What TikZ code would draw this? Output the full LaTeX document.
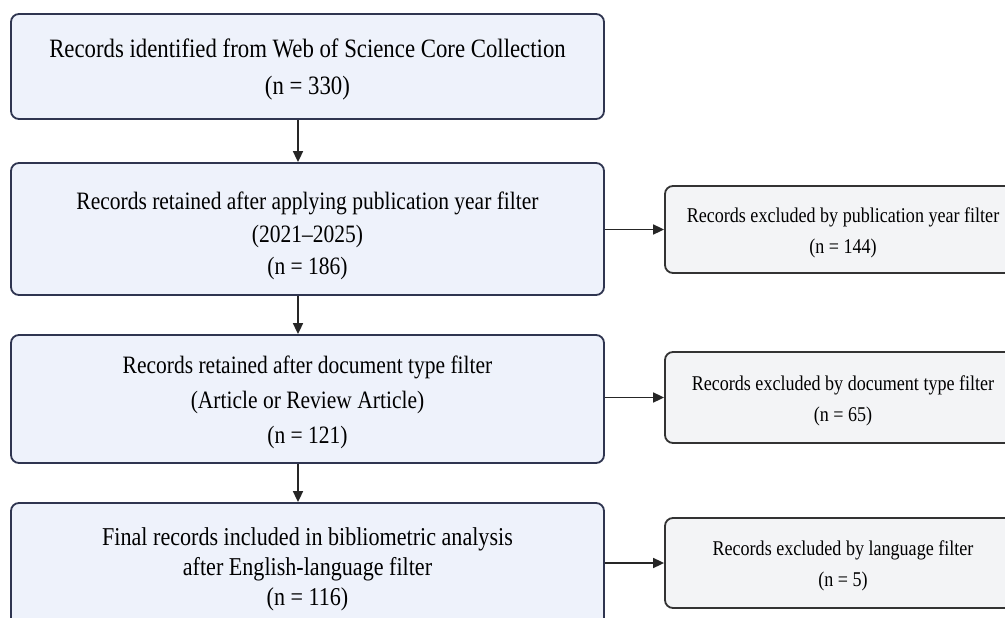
\documentclass[tikz,border=0pt]{standalone}
\usepackage{fontspec}
\setmainfont{Liberation Serif}[FakeStretch=0.86]
\usetikzlibrary{arrows.meta}
\definecolor{mainfill}{HTML}{EEF2FB}
\definecolor{mainedge}{HTML}{2F3550}
\definecolor{sidefill}{HTML}{F3F4F6}
\definecolor{sideedge}{HTML}{333333}
\tikzset{
  mainbox/.style={draw=mainedge, fill=mainfill, line width=1.8pt, rounded corners=8pt,
    minimum width=593pt, inner sep=0pt},
  sidebox/.style={draw=sideedge, fill=sidefill, line width=1.8pt, rounded corners=8pt,
    minimum width=356pt, inner sep=0pt},
  maintext/.style 2 args={align=center, inner sep=0pt, font=\fontsize{#1}{#2}\selectfont},
  sidetext/.style={align=center, inner sep=0pt, font=\fontsize{21}{31}\selectfont},
  flow/.style={line width=1.7pt, draw=black!85, -{Triangle[length=11pt,width=10pt]}}
}
\begin{document}
\begin{tikzpicture}[x=1pt,y=-1pt]
\useasboundingbox (0,0) rectangle (1005,618);
\clip (0,0) rectangle (1005,618);
\fill[white] (0,0) rectangle (1005,618);
\node[mainbox, minimum height=105pt] (b1) at (307.5,66.5) {};
\node[mainbox, minimum height=132pt] (b2) at (307.5,229) {};
\node[mainbox, minimum height=128pt] (b3) at (307.5,399) {};
\node[mainbox, minimum height=128pt] (b4) at (307.5,567) {};
\node[sidebox, minimum height=87pt] (r1) at (843,229.5) {};
\node[sidebox, minimum height=91pt] (r2) at (843,397.5) {};
\node[sidebox, minimum height=90pt] (r3) at (843,563) {};
\node[maintext={26.5}{37}] (t1) at ([yshift=-3pt]b1.center)
  {Records identified from Web of Science Core Collection\\(n = 330)};
\node[maintext={25}{32.5}] (t2) at ([yshift=-7pt]b2.center)
  {Records retained after applying publication year filter\\(2021--2025)\\(n = 186)};
\node[maintext={25}{35}] (t3) at ([yshift=-3pt]b3.center)
  {Records retained after document type filter\\(Article or Review Article)\\(n = 121)};
\node[maintext={25.7}{30}] (t4) at ([yshift=-2pt]b4.center)
  {Final records included in bibliometric analysis\\after English-language filter\\(n = 116)};
\node[sidetext] (s1) at ([yshift=-3pt]r1.center)
  {Records excluded by publication year filter\\(n = 144)};
\node[sidetext] (s2) at ([yshift=-3pt]r2.center)
  {Records excluded by document type filter\\(n = 65)};
\node[sidetext] (s3) at ([yshift=-3pt]r3.center)
  {Records excluded by language filter\\(n = 5)};
\draw[flow] ([xshift=-9.5pt]b1.south) -- ([xshift=-9.5pt]b2.north);
\draw[flow] ([xshift=-9.5pt]b2.south) -- ([xshift=-9.5pt]b3.north);
\draw[flow] ([xshift=-9.5pt]b3.south) -- ([xshift=-9.5pt]b4.north);
\draw[flow] (r1.west -| b2.east) -- (r1.west);
\draw[flow] (r2.west -| b3.east) -- (r2.west);
\draw[flow] (r3.west -| b4.east) -- (r3.west);
\end{tikzpicture}
\end{document}
